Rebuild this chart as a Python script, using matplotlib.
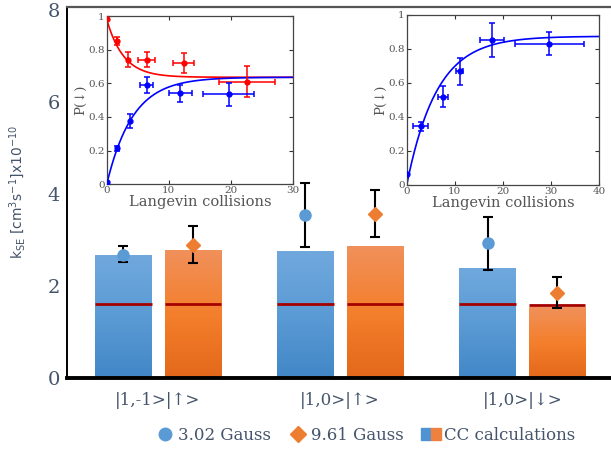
import numpy as np
import matplotlib.pyplot as plt
from matplotlib.colors import LinearSegmentedColormap
from matplotlib.lines import Line2D
from matplotlib.patches import Patch
from matplotlib.legend_handler import HandlerTuple

# main bar chart data
states = ['|1,-1>|\u2191>', '|1,0>|\u2191>', '|1,0>|\u2193>']
cc_302 = [2.67, 2.74, 2.38]        # CC calculations, 3.02 G (blue bars)
cc_961 = [2.77, 2.85, 1.53]        # CC calculations, 9.61 G (orange bars)
langevin_302 = [1.61, 1.61, 1.61]  # dark red lines on bars
langevin_961 = [1.61, 1.61, 1.59]
exp_302 = [2.67, 3.54, 2.93]
exp_302_lo = [2.52, 2.85, 2.35]
exp_302_hi = [2.87, 4.24, 3.51]
exp_961 = [2.90, 3.57, 1.85]
exp_961_lo = [2.49, 3.06, 1.53]
exp_961_hi = [3.31, 4.09, 2.19]

# inset 1 data (red: from |1,0>|up>, blue: from |1,0>|down>)
in1_red_x = [0.1, 1.6, 3.5, 6.4, 12.4, 22.6]
in1_red_y = [0.98, 0.85, 0.74, 0.74, 0.72, 0.61]
in1_red_xerr = [0, 0, 0, 1.35, 1.7, 4.5]
in1_red_yerr = [0, 0.025, 0.045, 0.045, 0.06, 0.09]
in1_blue_x = [0.1, 1.6, 3.75, 6.4, 11.8, 19.6]
in1_blue_y = [0.014, 0.215, 0.375, 0.59, 0.54, 0.535]
in1_blue_xerr = [0, 0, 0, 1.05, 1.85, 4.05]
in1_blue_yerr = [0, 0.015, 0.04, 0.05, 0.05, 0.068]
# exponential fits: asymptote, start, rate
in1_red_fit = (0.636, 0.98, 0.37)
in1_blue_fit = (0.636, 0.0, 0.24)

# inset 2 data
in2_x = [0.0, 2.9, 7.6, 11.0, 17.7, 29.7]
in2_y = [0.065, 0.345, 0.52, 0.67, 0.855, 0.83]
in2_xerr = [0, 1.6, 1.0, 0.8, 2.45, 7.2]
in2_yerr = [0, 0.025, 0.06, 0.08, 0.10, 0.068]
in2_fit = (0.875, 0.0, 0.16)

slate = '#44546A'
blue = '#5B9BD5'
orange = '#ED7D31'
darkred = '#A50000'
serif = ['DejaVu Serif', 'DejaVu Sans']

fig = plt.figure(figsize=(6.11, 4.51), dpi=100)
ax = fig.add_axes([67 / 611, 73 / 451, 544 / 611, 371 / 451])

x = np.arange(len(states))
w = 0.31
off = 0.191

blue_cmap = LinearSegmentedColormap.from_list('b', ['#4287C7', '#5B9BD5', '#70A8DD'])
orange_cmap = LinearSegmentedColormap.from_list('o', ['#E3681B', '#F47F2C', '#F0905A'])
grad = np.linspace(0, 1, 100).reshape(-1, 1)

for xs, vals, cmap in [(x - off, cc_302, blue_cmap), (x + off, cc_961, orange_cmap)]:
    bars = ax.bar(xs, vals, w, color='none', edgecolor='none', zorder=1)
    for b in bars:
        x0, y0 = b.get_x(), b.get_y()
        ax.imshow(grad, cmap=cmap, origin='lower', aspect='auto', zorder=1,
                  extent=[x0, x0 + b.get_width(), y0, y0 + b.get_height()])

ax.hlines(langevin_302, x - off - w / 2, x - off + w / 2, color=darkred, lw=2, zorder=2)
ax.hlines(langevin_961, x + off - w / 2, x + off + w / 2, color=darkred, lw=2, zorder=2)

e302 = [np.subtract(exp_302, exp_302_lo), np.subtract(exp_302_hi, exp_302)]
e961 = [np.subtract(exp_961, exp_961_lo), np.subtract(exp_961_hi, exp_961)]
ax.errorbar(x - off, exp_302, yerr=e302, fmt='o', color=blue, ms=8, ecolor='black',
            elinewidth=1.5, capsize=3.5, capthick=1.5, zorder=3)
ax.errorbar(x + off, exp_961, yerr=e961, fmt='D', color=orange, ms=7.5, ecolor='black',
            elinewidth=1.5, capsize=3.5, capthick=1.5, zorder=3)

ax.set_xlim(-0.5, 2.487)
ax.set_ylim(0, 8.065)
ax.set_yticks([0, 2, 4, 6, 8])
ax.set_xticks(x)
ax.set_xticklabels(states, fontsize=12, color=slate, family=serif)
ax.tick_params(axis='x', length=0, pad=10)
ax.tick_params(axis='y', length=0, pad=5, labelsize=14, labelcolor=slate)
for t in ax.get_yticklabels():
    t.set_family('DejaVu Serif')
ax.spines['right'].set_visible(False)
ax.spines['top'].set_color('#555555')
ax.spines['top'].set_linewidth(1.6)
ax.spines['left'].set_linewidth(1.4)
ax.spines['bottom'].set_linewidth(2.8)
ax.set_ylabel(r'k$_{\mathregular{SE}}$ [cm$^{\mathregular{3}}$s$^{\mathregular{-1}}$]x10$^{\mathregular{-10}}$',
              fontsize=10, color=slate)
ax.yaxis.set_label_coords(-0.072, 0.5)

handles = [Line2D([], [], marker='o', color=blue, ls='none', ms=9),
           Line2D([], [], marker='D', color=orange, ls='none', ms=8),
           (Patch(color='#4F93D2'), Patch(color='#EE8040'))]
fig.legend(handles, ['3.02 Gauss', '9.61 Gauss', 'CC calculations'],
           handler_map={tuple: HandlerTuple(ndivide=None, pad=0)},
           loc='center', bbox_to_anchor=(365 / 611, 1 - 435 / 451), ncol=3, frameon=False,
           prop={'family': 'DejaVu Serif', 'size': 12}, labelcolor=slate,
           handlelength=1.2, handletextpad=0.2, columnspacing=1.0)


def inset(rect, xmax, xticks):
    a = fig.add_axes(rect)
    a.set_xlim(0, xmax)
    a.set_ylim(0, 1)
    a.set_xticks(xticks)
    a.set_yticks([0, 0.2, 0.4, 0.6, 0.8, 1])
    a.set_yticklabels(['0', '0.2', '0.4', '0.6', '0.8', '1'])
    a.tick_params(direction='in', top=True, right=True, length=3, width=0.8,
                  labelsize=7.5, pad=1.5, colors='#333333')
    for t in a.get_xticklabels() + a.get_yticklabels():
        t.set_family('DejaVu Serif')
        t.set_color('#555555')
    for s in a.spines.values():
        s.set_color('#444444')
        s.set_linewidth(0.9)
    a.set_xlabel('Langevin collisions', family=serif, fontsize=10.5, color='#555555', labelpad=0)
    a.set_ylabel('P(\u2193)', family=serif, fontsize=9.5, color='#555555', labelpad=1)
    return a


def fit_curve(a, params, xmax, color):
    asym, start, k = params
    t = np.linspace(0, xmax, 300)
    a.plot(t, asym + (start - asym) * np.exp(-k * t), color=color, lw=1.2, zorder=2)


ax1 = inset([106.7 / 611, 1 - 184.3 / 451, 186.6 / 611, 168.3 / 451], 30, [0, 10, 20, 30])
fit_curve(ax1, in1_red_fit, 30, 'red')
fit_curve(ax1, in1_blue_fit, 30, 'blue')
ax1.errorbar(in1_red_x, in1_red_y, xerr=in1_red_xerr, yerr=in1_red_yerr, fmt='o', color='red',
             ms=3.5, elinewidth=1.1, capsize=2, capthick=1.1, zorder=3)
ax1.errorbar(in1_blue_x, in1_blue_y, xerr=in1_blue_xerr, yerr=in1_blue_yerr, fmt='o', color='blue',
             ms=3.5, elinewidth=1.1, capsize=2, capthick=1.1, zorder=3)

ax2 = inset([406.7 / 611, 1 - 185 / 451, 192.3 / 611, 170 / 451], 40, [0, 10, 20, 30, 40])
fit_curve(ax2, in2_fit, 40, 'blue')
ax2.errorbar(in2_x, in2_y, xerr=in2_xerr, yerr=in2_yerr, fmt='o', color='blue',
             ms=3.5, elinewidth=1.1, capsize=2, capthick=1.1, zorder=3)

fig.savefig('out.png', dpi=100)
